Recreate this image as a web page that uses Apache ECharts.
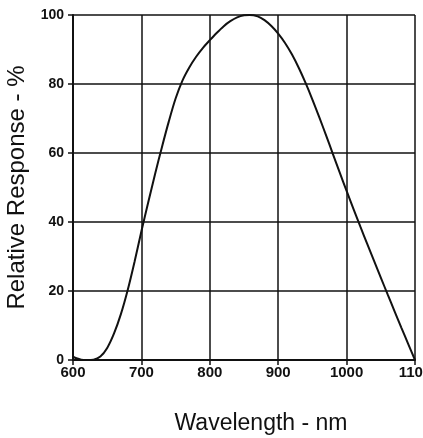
<!DOCTYPE html>
<html>
<head>
<meta charset="utf-8">
<script src="https://cdn.jsdelivr.net/npm/echarts@6/dist/echarts.min.js"></script>
<style>
html,body{margin:0;padding:0;background:#fff;}
#chart{width:423px;height:438px;}
</style>
</head>
<body>
<div id="chart"></div>
<script>
const wavelengths = [600, 605, 612, 620, 630, 640, 650, 660, 670, 680, 690, 700, 710, 720, 730, 740, 750, 760, 770, 780, 790, 800, 810, 820, 830, 840, 850, 858, 870, 880, 890, 900, 910, 920, 930, 940, 950, 960, 970, 980, 990, 1000, 1010, 1020, 1030, 1040, 1050, 1060, 1070, 1080, 1090, 1100];
const response = [1.0, 0.5, 0.1, 0, 0.1, 1.0, 3.5, 7.7, 13.3, 20.3, 28.5, 37.3, 45.7, 53.9, 61.7, 69.1, 75.8, 81.0, 84.8, 87.9, 90.5, 92.7, 94.8, 96.7, 98.2, 99.3, 99.9, 100, 99.6, 98.5, 96.8, 94.6, 91.9, 88.6, 84.7, 80.3, 75.5, 70.4, 65.1, 59.7, 54.3, 49.0, 43.8, 38.7, 33.7, 28.8, 23.9, 19.0, 14.2, 9.4, 4.7, 0];
const xTicks = [600, 700, 800, 900, 1000, 1100];
const yTicks = [0, 20, 40, 60, 80, 100];
const xTitle = 'Wavelength - nm';
const yTitle = 'Relative Response - %';

const chart = echarts.init(document.getElementById('chart'), null, {renderer: 'canvas'});
const tickFont = '"Liberation Sans", Arial, sans-serif';
const nameFont = '"Liberation Sans", Arial, sans-serif';
chart.setOption({
  animation: false,
  backgroundColor: '#ffffff',
  grid: {left: 73, right: 8, top: 15, bottom: 78, containLabel: false, outerBoundsMode: 'none'},
  xAxis: {
    type: 'value',
    min: xTicks[0], max: xTicks[xTicks.length - 1], interval: 100,
    name: xTitle, nameLocation: 'middle', nameGap: 52,
    nameTextStyle: {fontFamily: nameFont, fontSize: 23, color: '#111', padding: [0, 0, 0, 34]},
    axisLine: {show: true, onZero: false, lineStyle: {color: '#111', width: 2}},
    axisTick: {show: true, inside: false, length: 5, lineStyle: {color: '#111', width: 1.5}},
    axisLabel: {show: true, margin: 5, fontFamily: tickFont, fontWeight: 'bold', fontSize: 15, color: '#111',
      hideOverlap: false, showMinLabel: true, showMaxLabel: true,
      formatter: v => xTicks.includes(v) ? String(v) : ''},
    splitLine: {show: true, lineStyle: {color: '#111', width: 1.5}}
  },
  yAxis: {
    type: 'value',
    min: yTicks[0], max: yTicks[yTicks.length - 1], interval: 20,
    name: yTitle, nameLocation: 'middle', nameGap: 39, nameRotate: 90,
    nameTextStyle: {fontFamily: nameFont, fontSize: 24, color: '#111'},
    axisLine: {show: true, lineStyle: {color: '#111', width: 2}},
    axisTick: {show: true, inside: false, length: 5, lineStyle: {color: '#111', width: 1.5}},
    axisLabel: {show: true, margin: 9, fontFamily: tickFont, fontWeight: 'bold', fontSize: 14, color: '#111',
      formatter: v => yTicks.includes(v) ? String(v) : ''},
    splitLine: {show: true, lineStyle: {color: '#111', width: 1.5}}
  },
  series: [{
    type: 'line',
    data: wavelengths.map((w, i) => [w, response[i]]),
    smooth: 0.3,
    showSymbol: false,
    symbol: 'none',
    lineStyle: {color: '#111', width: 2},
    clip: false
  }]
});
</script>
</body>
</html>
